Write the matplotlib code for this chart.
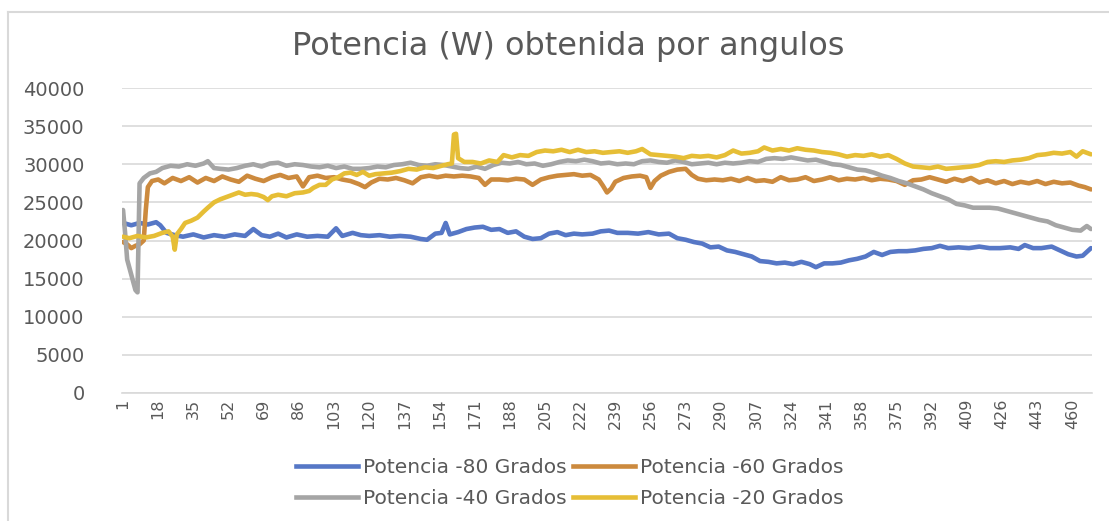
import matplotlib
matplotlib.use("Agg")
import matplotlib.pyplot as plt
from matplotlib.lines import Line2D

plt.rcParams['font.family'] = ['DejaVu Sans']

title = "Potencia (W) obtenida por angulos"
series_names = ["Potencia -80 Grados", "Potencia -60 Grados",
                "Potencia -40 Grados", "Potencia -20 Grados"]
n_points = 469
tick_step = 17
y_ticks = [0, 5000, 10000, 15000, 20000, 25000, 30000, 35000, 40000]

x80 = [1, 5, 9, 13, 17, 19, 22, 26, 30, 35, 40, 45, 50, 55, 60, 64, 68, 72, 76, 80, 85, 90, 95, 100, 104, 107, 112, 116, 120, 125, 130, 135, 140, 145, 148, 152, 155, 157, 159, 163, 167, 171, 175, 179, 183, 187, 191, 195, 199, 203, 207, 211, 215, 219, 223, 228, 232, 236, 240, 245, 250, 255, 260, 265, 269, 273, 277, 281, 285, 289, 293, 297, 301, 305, 309, 313, 317, 321, 325, 329, 333, 336, 340, 344, 348, 352, 356, 360, 364, 368, 372, 376, 380, 384, 388, 392, 396, 400, 405, 410, 415, 420, 425, 430, 434, 437, 441, 445, 450, 454, 458, 462, 465, 467, 469]
y80 = [22300, 22000, 22300, 22100, 22400, 22000, 21000, 20700, 20500, 20800, 20400, 20700, 20500, 20800, 20600, 21500, 20700, 20500, 20900, 20400, 20800, 20500, 20600, 20500, 21600, 20600, 21000, 20700, 20600, 20700, 20500, 20600, 20500, 20200, 20100, 20900, 21000, 22300, 20800, 21100, 21500, 21700, 21800, 21400, 21500, 21000, 21200, 20500, 20200, 20300, 20900, 21100, 20700, 20900, 20800, 20900, 21200, 21300, 21000, 21000, 20900, 21100, 20800, 20900, 20300, 20100, 19800, 19600, 19100, 19200, 18700, 18500, 18200, 17900, 17300, 17200, 17000, 17100, 16900, 17200, 16900, 16500, 17000, 17000, 17100, 17400, 17600, 17900, 18500, 18100, 18500, 18600, 18600, 18700, 18900, 19000, 19300, 19000, 19100, 19000, 19200, 19000, 19000, 19100, 18900, 19400, 19000, 19000, 19200, 18700, 18200, 17900, 18000, 18500, 19000]

x60 = [1, 3, 5, 7, 9, 11, 12, 13, 15, 18, 21, 25, 29, 33, 37, 41, 45, 49, 53, 57, 61, 65, 69, 73, 77, 81, 85, 88, 91, 95, 99, 103, 107, 111, 115, 118, 121, 125, 129, 133, 137, 141, 145, 149, 153, 157, 161, 165, 169, 173, 176, 179, 183, 187, 191, 195, 199, 203, 207, 211, 215, 219, 223, 227, 231, 233, 235, 237, 239, 243, 247, 251, 254, 256, 258, 261, 265, 269, 273, 276, 279, 283, 287, 291, 295, 299, 303, 307, 311, 315, 319, 323, 327, 331, 335, 339, 343, 347, 351, 355, 359, 363, 367, 371, 375, 379, 383, 387, 391, 395, 399, 403, 407, 411, 415, 419, 423, 427, 431, 435, 439, 443, 447, 451, 455, 459, 463, 466, 469]
y60 = [19800, 19500, 19000, 19300, 19500, 20000, 24000, 27000, 27800, 28000, 27500, 28200, 27800, 28300, 27600, 28200, 27800, 28400, 28000, 27700, 28500, 28100, 27800, 28300, 28600, 28200, 28400, 27100, 28300, 28500, 28200, 28300, 28000, 27800, 27400, 27000, 27600, 28100, 28000, 28200, 27900, 27500, 28300, 28500, 28300, 28500, 28400, 28500, 28400, 28200, 27300, 28000, 28000, 27900, 28100, 28000, 27300, 28000, 28300, 28500, 28600, 28700, 28500, 28600, 28000, 27200, 26300, 26800, 27700, 28200, 28400, 28500, 28300, 26900, 27800, 28500, 29000, 29300, 29400, 28600, 28100, 27900, 28000, 27900, 28100, 27800, 28200, 27800, 27900, 27700, 28300, 27900, 28000, 28300, 27800, 28000, 28300, 27900, 28100, 28000, 28200, 27900, 28100, 28000, 27800, 27300, 27900, 28000, 28300, 28000, 27700, 28100, 27800, 28200, 27600, 27900, 27500, 27800, 27400, 27700, 27500, 27800, 27400, 27700, 27500, 27600, 27200, 27000, 26700]

x40 = [1, 2, 3, 5, 7, 8, 9, 11, 14, 17, 20, 24, 28, 32, 36, 40, 42, 45, 48, 52, 56, 60, 64, 68, 72, 76, 80, 84, 88, 92, 96, 100, 104, 108, 112, 116, 120, 124, 128, 132, 136, 140, 144, 148, 152, 156, 160, 164, 168, 172, 176, 180, 184, 188, 192, 196, 200, 204, 208, 212, 216, 220, 224, 228, 232, 236, 240, 244, 248, 252, 256, 260, 264, 268, 272, 276, 280, 284, 288, 292, 296, 300, 304, 308, 312, 316, 320, 324, 328, 332, 336, 340, 344, 348, 352, 356, 360, 364, 368, 372, 376, 380, 384, 388, 392, 396, 400, 404, 408, 412, 416, 420, 424, 428, 432, 436, 440, 444, 448, 452, 456, 460, 464, 467, 469]
y40 = [24000, 21000, 17500, 15500, 13500, 13200, 27500, 28200, 28800, 29000, 29500, 29800, 29700, 30000, 29800, 30100, 30400, 29500, 29400, 29300, 29500, 29800, 30000, 29700, 30100, 30200, 29800, 30000, 29900, 29700, 29600, 29800, 29500, 29700, 29400, 29400, 29500, 29700, 29600, 29900, 30000, 30200, 29900, 29800, 30000, 29900, 29700, 29500, 29400, 29700, 29400, 29900, 30200, 30100, 30300, 30000, 30100, 29800, 30000, 30300, 30500, 30400, 30600, 30400, 30100, 30200, 30000, 30100, 30000, 30400, 30500, 30300, 30200, 30500, 30300, 30000, 30100, 30200, 30000, 30200, 30100, 30200, 30400, 30300, 30700, 30800, 30700, 30900, 30700, 30500, 30600, 30300, 30000, 29900, 29600, 29300, 29200, 28900, 28500, 28200, 27800, 27500, 27100, 26700, 26200, 25800, 25400, 24800, 24600, 24300, 24300, 24300, 24200, 23900, 23600, 23300, 23000, 22700, 22500, 22000, 21700, 21400, 21300, 21900, 21500]

x20 = [1, 4, 8, 12, 16, 20, 23, 25, 26, 27, 29, 31, 34, 37, 40, 42, 45, 48, 51, 54, 57, 60, 63, 66, 69, 71, 73, 76, 80, 84, 88, 91, 93, 96, 99, 102, 105, 108, 111, 114, 117, 120, 123, 127, 131, 135, 139, 143, 147, 151, 155, 158, 160, 161, 162, 163, 166, 170, 174, 178, 182, 185, 189, 193, 197, 201, 205, 209, 213, 217, 221, 225, 229, 233, 237, 241, 245, 249, 252, 256, 260, 264, 268, 272, 276, 280, 284, 288, 292, 296, 300, 304, 308, 311, 315, 319, 323, 327, 331, 335, 339, 343, 347, 351, 355, 359, 363, 367, 371, 375, 379, 383, 387, 391, 395, 399, 403, 407, 411, 415, 419, 423, 427, 431, 435, 439, 443, 447, 451, 455, 459, 462, 465, 469]
y20 = [20500, 20300, 20600, 20400, 20600, 21000, 21200, 20500, 18800, 20800, 21500, 22300, 22600, 23000, 23800, 24300, 25000, 25400, 25700, 26000, 26300, 26000, 26100, 26000, 25700, 25300, 25800, 26000, 25800, 26200, 26300, 26500, 26900, 27300, 27300, 28000, 28300, 28800, 28900, 28600, 29000, 28500, 28700, 28800, 28900, 29100, 29400, 29300, 29600, 29500, 29800, 30000, 30100, 33900, 34000, 30800, 30300, 30300, 30100, 30500, 30300, 31200, 30900, 31200, 31100, 31600, 31800, 31700, 31900, 31600, 31900, 31600, 31700, 31500, 31600, 31700, 31500, 31700, 32000, 31300, 31200, 31100, 31000, 30800, 31100, 31000, 31100, 30900, 31200, 31800, 31400, 31500, 31700, 32200, 31800, 32000, 31800, 32100, 31900, 31800, 31600, 31500, 31300, 31000, 31200, 31100, 31300, 31000, 31200, 30700, 30100, 29700, 29600, 29500, 29700, 29400, 29500, 29600, 29700, 29900, 30300, 30400, 30300, 30500, 30600, 30800, 31200, 31300, 31500, 31400, 31600, 31000, 31700, 31300]

colors = ['#5677C6', '#CC8A3E', '#A5A5A5', '#E6BE36']
text_color = '#595959'

W, H = 1109, 521
fig = plt.figure(figsize=(W / 100, H / 100), dpi=100)
ax = fig.add_axes([122 / W, 1 - 393 / H, 970 / W, 305 / H])

data = [(x80, y80), (x60, y60), (x40, y40), (x20, y20)]
for (xs, ys), c, name in zip(data, colors, series_names):
    ax.plot(xs, ys, color=c, lw=3.3, label=name, solid_joinstyle='round',
            solid_capstyle='round')

ax.set_xlim(0.5, n_points + 0.5)
ax.set_ylim(0, 40000)
ax.set_yticks(y_ticks)
ax.set_yticklabels([str(v) for v in y_ticks], fontsize=14, color=text_color)
xt = list(range(1, n_points + 1, tick_step))
ax.set_xticks(xt)
ax.set_xticklabels([str(v) for v in xt], rotation=90, fontsize=11.5,
                   color=text_color)
ax.tick_params(axis='both', length=0)
ax.tick_params(axis='y', pad=27)
ax.tick_params(axis='x', pad=4)
ax.grid(axis='y', color='#D9D9D9', lw=1.2)
ax.set_axisbelow(True)
for s in ax.spines.values():
    s.set_visible(False)
ax.spines['bottom'].set_visible(True)
ax.spines['bottom'].set_color('#D9D9D9')
ax.spines['bottom'].set_linewidth(1.2)

fig.text(568 / W, 1 - 46 / H, title, ha='center', va='center',
         fontsize=23, color=text_color)

order = [0, 2, 1, 3]
handles = [Line2D([0], [0], color=colors[i], lw=3.3) for i in order]
labels = [series_names[i] for i in order]
leg = fig.legend(handles, labels, loc='center', ncol=2,
                 bbox_to_anchor=(570 / W, 1 - 483 / H), frameon=False,
                 fontsize=14.5, handlelength=3.1, handletextpad=0.25,
                 columnspacing=0.3, labelspacing=0.62, borderpad=0)
for t in leg.get_texts():
    t.set_color(text_color)

# chart frame remnants
fig.add_artist(Line2D([8 / W, 1], [1 - 12 / H, 1 - 12 / H], color='#D9D9D9',
                      lw=1.5, transform=fig.transFigure))
fig.add_artist(Line2D([8 / W, 8 / W], [0, 1 - 12 / H], color='#D9D9D9',
                      lw=1.5, transform=fig.transFigure))

fig.savefig('out.png', dpi=100)
